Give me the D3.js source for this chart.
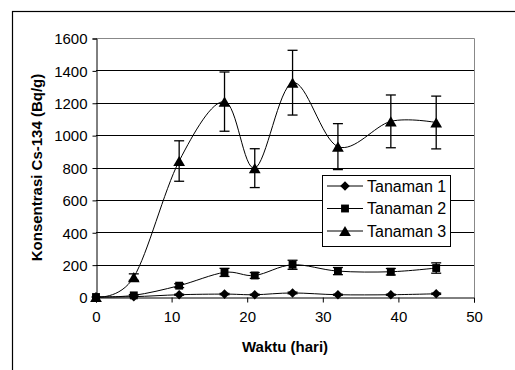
<!DOCTYPE html>
<html>
<head>
<meta charset="utf-8">
<script src="https://cdn.jsdelivr.net/npm/d3@7"></script>
<style>
  body { margin: 0; background: #fff; }
  svg { display: block; font-family: "Liberation Sans", Arial, sans-serif; }
</style>
</head>
<body>
<svg id="chart" width="515" height="370"></svg>
<script>
// data
var days = [0, 5, 11, 17, 21, 26, 32, 39, 45];
var tanaman1 = [0, 2, 14, 18, 14, 25, 14, 14, 20];
var tanaman2 = [0, 10, 70, 152, 133, 199, 160, 156, 179];
var tanaman3 = [0, 123, 840, 1207, 796, 1324, 929, 1085, 1078];
var err1 = [0, 0, 3, 4, 3, 5, 3, 3, 4];
var err2 = [0, 5, 12, 25, 18, 28, 22, 20, 32];
var err3 = [0, 20, 125, 183, 120, 200, 142, 163, 163];
var seriesNames = ["Tanaman 1", "Tanaman 2", "Tanaman 3"];
var yTicks = [0, 200, 400, 600, 800, 1000, 1200, 1400, 1600];
var xTicks = [0, 10, 20, 30, 40, 50];

function drawChart() {
  var svg = d3.select("#chart");
  var pLeft = 96, pRight = 474, pTop = 38, pBottom = 297;

  var x = d3.scaleLinear().domain([0, 50]).range([pLeft, pRight]);
  var y = d3.scaleLinear().domain([0, 1600]).range([pBottom, pTop]);

  // outer frame
  svg.append("rect")
    .attr("x", 12.5).attr("y", 11.5)
    .attr("width", 520).attr("height", 380)
    .attr("fill", "#fff").attr("stroke", "#000").attr("stroke-width", 1.2);

  // gridlines
  svg.append("g").selectAll("line")
    .data(yTicks.filter(function(d) { return d > 0 && d < 1600; }))
    .enter().append("line")
    .attr("x1", pLeft).attr("x2", pRight)
    .attr("y1", function(d) { return Math.round(y(d)) + 0.5; })
    .attr("y2", function(d) { return Math.round(y(d)) + 0.5; })
    .attr("stroke", "#000");

  // plot area border (top & right gray)
  svg.append("path")
    .attr("d", "M" + pLeft + "," + (pTop + 0.5) + "H" + (pRight + 0.5) + "V" + pBottom)
    .attr("fill", "none").attr("stroke", "#888");

  // axes
  var yAxis = d3.axisLeft(y).tickValues(yTicks).tickFormat(d3.format("d")).tickSize(4).tickPadding(5);
  var gy = svg.append("g").attr("transform", "translate(" + (pLeft + 0.5) + ",0.5)").call(yAxis);
  var xAxis = d3.axisBottom(x).tickValues(xTicks).tickFormat(d3.format("d")).tickSize(5).tickPadding(9);
  var gx = svg.append("g").attr("transform", "translate(0," + (pBottom + 0.5) + ")").call(xAxis);

  [gx, gy].forEach(function(g) {
    g.select(".domain").attr("stroke", "#000");
    g.selectAll("line").attr("stroke", "#000");
    g.selectAll("text").attr("font-size", 15).attr("fill", "#000")
      .attr("font-family", "'Liberation Sans', Arial, sans-serif");
  });
  gy.selectAll("text").attr("dy", "0.35em");

  // axis titles
  svg.append("text")
    .attr("x", (pLeft + pRight) / 2).attr("y", 352)
    .attr("text-anchor", "middle")
    .attr("font-size", 15).attr("font-weight", "bold")
    .text("Waktu (hari)");

  svg.append("text")
    .attr("transform", "translate(42," + (pTop + pBottom) / 2 + ") rotate(-90)")
    .attr("text-anchor", "middle")
    .attr("font-size", 15).attr("font-weight", "bold")
    .text("Konsentrasi Cs-134 (Bq/g)");

  // markers: diamond is a square turned 45 degrees, like Excel's;
  // triangle nudged down so its box (not centroid) sits on the point
  var markers = [
    { type: d3.symbolSquare, size: 46, rot: 0 + 45, dy: 0 },
    { type: d3.symbolSquare, size: 62, rot: 0, dy: 0 },
    { type: d3.symbolTriangle, size: 60, rot: 0, dy: 1.7 }
  ];
  var allSeries = [
    { name: seriesNames[0], values: tanaman1, errs: err1, mk: markers[0] },
    { name: seriesNames[1], values: tanaman2, errs: err2, mk: markers[1] },
    { name: seriesNames[2], values: tanaman3, errs: err3, mk: markers[2] }
  ];

  var line = d3.line()
    .x(function(d) { return x(d[0]); })
    .y(function(d) { return y(d[1]); })
    .curve(d3.curveCardinal.tension(0));

  // draw 3 first so the square sits on top at origin
  allSeries.slice().reverse().forEach(function(s) {
    var pts = days.map(function(d, i) { return [d, s.values[i], s.errs[i]]; });
    var g = svg.append("g");

    g.append("path")
      .datum(pts)
      .attr("d", line)
      .attr("fill", "none").attr("stroke", "#000").attr("stroke-width", 1);

    var eb = g.selectAll(".err")
      .data(pts.filter(function(p) { return p[2] > 0; }))
      .enter().append("g");
    eb.append("line")
      .attr("x1", function(p) { return x(p[0]); })
      .attr("x2", function(p) { return x(p[0]); })
      .attr("y1", function(p) { return y(p[1] - p[2]); })
      .attr("y2", function(p) { return y(p[1] + p[2]); })
      .attr("stroke", "#000").attr("stroke-width", 1.3);
    [1, -1].forEach(function(sign) {
      eb.append("line")
        .attr("x1", function(p) { return x(p[0]) - 5; })
        .attr("x2", function(p) { return x(p[0]) + 5; })
        .attr("y1", function(p) { return y(p[1] + sign * p[2]); })
        .attr("y2", function(p) { return y(p[1] + sign * p[2]); })
        .attr("stroke", "#000").attr("stroke-width", 1.3);
    });

    g.selectAll(".mk")
      .data(pts)
      .enter().append("path")
      .attr("transform", function(p) {
        return "translate(" + x(p[0]) + "," + (y(p[1]) + s.mk.dy) + ") rotate(" + s.mk.rot + ")";
      })
      .attr("d", d3.symbol().type(s.mk.type).size(s.mk.size))
      .attr("fill", "#000");
  });

  // legend
  var legend = svg.append("g");
  legend.append("rect")
    .attr("x", 322.5).attr("y", 175.5)
    .attr("width", 128).attr("height", 71)
    .attr("fill", "#fff").attr("stroke", "#000");

  var li = legend.selectAll(".li")
    .data(allSeries)
    .enter().append("g")
    .attr("transform", function(d, i) { return "translate(0," + (186 + i * 22.5) + ")"; });
  li.append("line")
    .attr("x1", 327).attr("x2", 363)
    .attr("stroke", "#000");
  li.append("path")
    .attr("transform", function(d) { return "translate(345," + d.mk.dy + ") rotate(" + d.mk.rot + ")"; })
    .attr("d", function(d) { return d3.symbol().type(d.mk.type).size(d.mk.size)(); })
    .attr("fill", "#000");
  li.append("text")
    .attr("x", 367).attr("dy", "0.35em")
    .attr("font-size", 16)
    .text(function(d) { return d.name; });
}

drawChart();
</script>
</body>
</html>
